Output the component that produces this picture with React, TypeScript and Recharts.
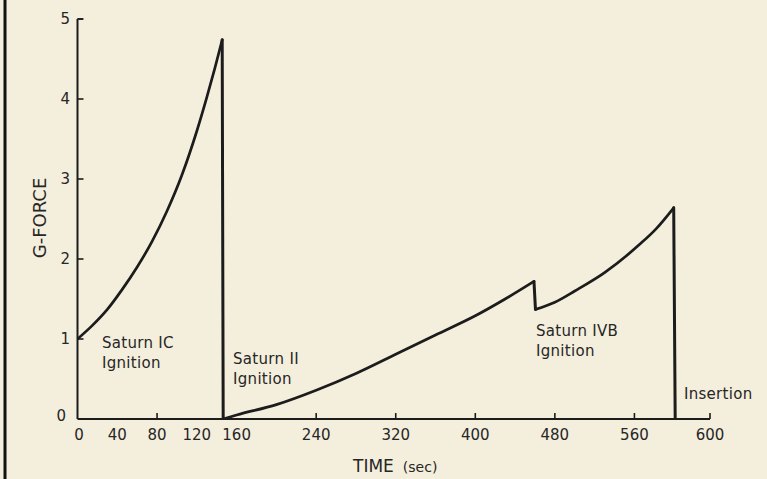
import React from "react";
import { LineChart, Line, XAxis, YAxis, ReferenceDot } from "recharts";

// ---- data ----
// First stage (Saturn IC burn)
const stage1Time = [0, 15, 30, 45, 60, 75, 90, 105, 120, 130, 138, 145.5];
const stage1G = [1.0, 1.17, 1.37, 1.62, 1.9, 2.22, 2.6, 3.05, 3.6, 4.02, 4.38, 4.74];
// Second stage (Saturn II burn)
const stage2Time = [146.5, 160, 200, 240, 280, 320, 360, 400, 430, 459];
const stage2G = [0, 0.05, 0.18, 0.36, 0.57, 0.81, 1.05, 1.29, 1.5, 1.72];
// Third stage (Saturn IVB burn)
const stage3Time = [460.5, 480, 500, 530, 565, 582, 599.5];
const stage3G = [1.37, 1.46, 1.6, 1.83, 2.18, 2.38, 2.64];
// Cut-off at insertion
const insertionTime = 601;
const insertionG = 0;

const xTickValues = [0, 40, 80, 120, 160, 240, 320, 400, 480, 560, 636];
const xTickLabels = ["0", "40", "80", "120", "160", "240", "320", "400", "480", "560", "600"];
const xTickMarks = [80, 240, 320, 400, 480, 560, 636];
const yTickValues = [0, 1, 2, 3, 4, 5];

const annotationT = [24.6, 156.4, 461, 609.8];
const annotationG = [0.89, 0.69, 1.04, 0.25];
const annotationLines = [
  ["Saturn IC", "Ignition"],
  ["Saturn II", "Ignition"],
  ["Saturn IVB", "Ignition"],
  ["Insertion"],
];

const rows = (ts: number[], gs: number[]) => ts.map((t, i) => ({ t, g: gs[i] }));
const stage1 = rows(stage1Time, stage1G);
const stage2 = rows(stage2Time, stage2G);
const stage3 = rows(stage3Time, stage3G);
const last = (a: { t: number; g: number }[]) => a[a.length - 1];
const drop1 = [last(stage1), stage2[0]];
const drop2 = [last(stage2), stage3[0]];
const drop3 = [last(stage3), { t: insertionTime, g: insertionG }];

// ---- styling ----
const BG = "#f4eedc";
const INK = "#1c1c1c";
const TEXT = "#262626";
const FONT = "'DejaVu Sans', 'Liberation Sans', sans-serif";
const X_MARGIN = 9;
const Y_MARGIN = 7.5;

const XTick = (props: any) => {
  const { x, y, payload } = props;
  const v = payload.value;
  const idx = xTickValues.indexOf(v);
  const axisY = y - X_MARGIN;
  return (
    <g>
      {xTickMarks.includes(v) && (
        <line x1={x} x2={x} y1={axisY} y2={axisY - 6} stroke={INK} strokeWidth={1.6} />
      )}
      <text
        x={v === 0 ? x + 1.5 : x}
        y={y}
        dy="0.78em"
        textAnchor="middle"
        fontFamily={FONT}
        fontSize={15}
        fill={TEXT}
      >
        {idx >= 0 ? xTickLabels[idx] : v}
      </text>
    </g>
  );
};

const YTick = (props: any) => {
  const { x, y, payload } = props;
  const v = payload.value;
  const axisX = x + Y_MARGIN;
  return (
    <g>
      {v > 0 && (
        <line x1={axisX} x2={axisX + 6} y1={y} y2={y} stroke={INK} strokeWidth={1.6} />
      )}
      <text
        x={v === 0 ? x - 4 : x}
        y={v === 0 ? y - 3 : y}
        dy="0.36em"
        textAnchor="end"
        fontFamily={FONT}
        fontSize={15}
        fill={TEXT}
      >
        {v}
      </text>
    </g>
  );
};

const makeAnnotation = (lines: string[]) => (props: any) => {
  const { cx, cy } = props;
  return (
    <text x={cx} y={cy} fontFamily={FONT} fontSize={15} fill={TEXT} letterSpacing={0.3}>
      {lines.map((ln, i) => (
        <tspan key={i} x={cx} dy={i === 0 ? 0 : 20}>
          {ln}
        </tspan>
      ))}
    </text>
  );
};

const curveProps = {
  dataKey: "g",
  stroke: INK,
  strokeWidth: 2.7,
  dot: false,
  activeDot: false,
  isAnimationActive: false,
  strokeLinejoin: "round" as const,
  strokeLinecap: "round" as const,
};

export default function App() {
  return (
    <div
      style={{
        position: "absolute",
        top: 0,
        left: 0,
        width: 767,
        height: 479,
        background: BG,
        overflow: "hidden",
      }}
    >
      <LineChart
        width={767}
        height={479}
        margin={{ top: 19, right: 57, left: 37.5, bottom: 30 }}
      >
        <XAxis
          dataKey="t"
          type="number"
          domain={[0, 636]}
          ticks={xTickValues}
          interval={0}
          height={30}
          tickSize={0}
          tickMargin={X_MARGIN}
          tickLine={false}
          axisLine={{ stroke: INK, strokeWidth: 2 }}
          tick={<XTick />}
          allowDataOverflow
        />
        <YAxis
          type="number"
          domain={[0, 5]}
          ticks={yTickValues}
          interval={0}
          width={40}
          tickSize={0}
          tickMargin={Y_MARGIN}
          tickLine={false}
          axisLine={{ stroke: INK, strokeWidth: 2 }}
          tick={<YTick />}
          allowDataOverflow
        />
        <Line {...curveProps} data={stage1} type="monotone" />
        <Line {...curveProps} data={drop1} type="linear" strokeWidth={3} />
        <Line {...curveProps} data={stage2} type="monotone" />
        <Line {...curveProps} data={drop2} type="linear" strokeWidth={3} />
        <Line {...curveProps} data={stage3} type="monotone" />
        <Line {...curveProps} data={drop3} type="linear" strokeWidth={3} />
        {annotationLines.map((lines, i) => (
          <ReferenceDot
            key={i}
            x={annotationT[i]}
            y={annotationG[i]}
            r={1}
            ifOverflow="visible"
            shape={makeAnnotation(lines)}
          />
        ))}
      </LineChart>
      <svg
        width={767}
        height={479}
        style={{ position: "absolute", top: 0, left: 0, pointerEvents: "none" }}
      >
        <rect x={3.5} y={0} width={3} height={479} fill="#111" />
        <line x1={77.5} x2={83} y1={19} y2={19} stroke={INK} strokeWidth={1.6} />
        <text
          transform="translate(45.5,218) rotate(-90)"
          textAnchor="middle"
          fontFamily={FONT}
          fontSize={18}
          fill={TEXT}
        >
          G-FORCE
        </text>
        <text x={353} y={472} fontFamily={FONT} fill={TEXT}>
          <tspan fontSize={17}>TIME</tspan>
          <tspan fontSize={14} dx={9}>(sec)</tspan>
        </text>
      </svg>
    </div>
  );
}
